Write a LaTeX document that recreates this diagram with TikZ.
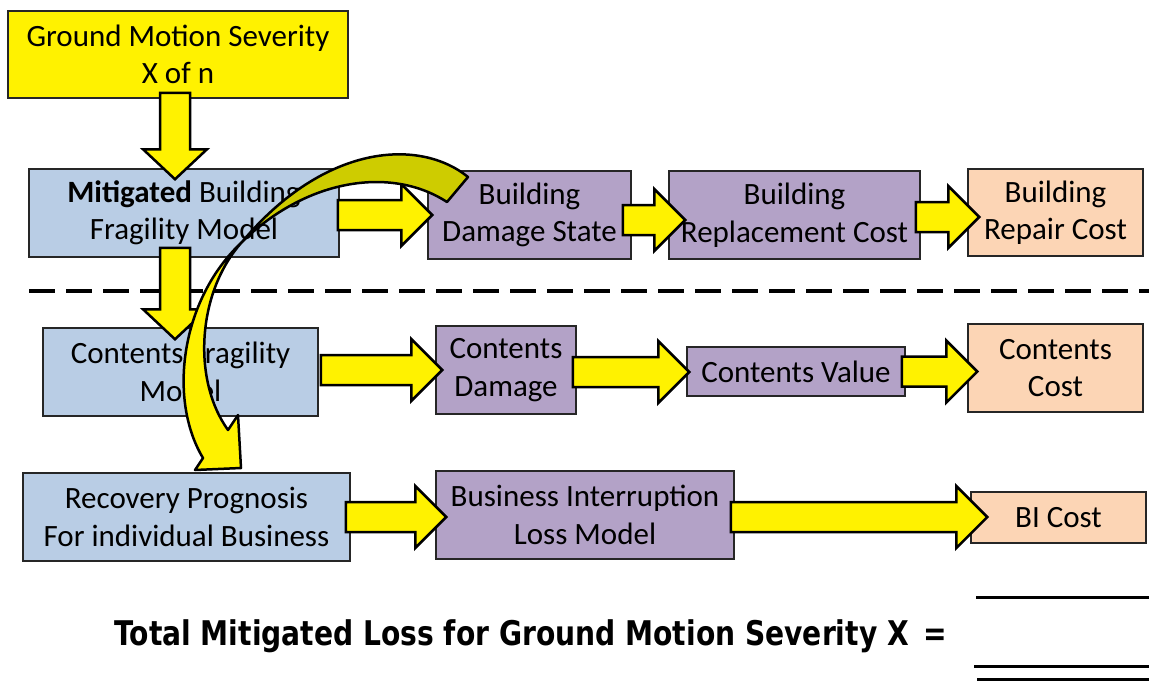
\documentclass[tikz,border=0pt]{standalone}
\usepackage{fontspec}
\setmainfont{Carlito}
\newfontfamily\totalfont{DejaVu Sans}
\usepackage{graphicx}
\usepackage{tikz}
\usetikzlibrary{calc}

\definecolor{modelblue}{RGB}{185,205,229}
\definecolor{stagepurple}{RGB}{179,162,199}
\definecolor{costpeach}{RGB}{252,213,181}
\definecolor{backolive}{RGB}{206,204,0}

\tikzset{
  box/.style={draw=black!85, line width=1.5pt, align=center, inner sep=0pt,
    font=\fontsize{31}{37.5}\selectfont},
  model/.style={box, fill=modelblue},
  stage/.style={box, fill=stagepurple},
  cost/.style={box, fill=costpeach},
  yblock/.style={draw=black, line width=2.5pt, fill=yellow, line join=miter}
}

\newcommand{\rightblock}[2]{%
  \path[yblock] let \p1=(#1), \p2=(#2) in
    (\x1,\y1+15) -- (\x2-31,\y1+15) -- (\x2-31,\y1+31) -- (\x2,\y1)
    -- (\x2-31,\y1-31) -- (\x2-31,\y1-15) -- (\x1,\y1-15) -- cycle;}
\newcommand{\downblock}[2]{%
  \path[yblock] let \p1=(#1), \p2=(#2) in
    (\x1-15,\y1) -- (\x1+15,\y1) -- (\x1+15,\y2+30) -- (\x1+32,\y2+30)
    -- (\x1,\y2) -- (\x1-32,\y2+30) -- (\x1-15,\y2+30) -- cycle;}

\begin{document}
\begin{tikzpicture}[x=1pt, y=-1pt]
  \useasboundingbox (0,0) rectangle (1149,681);

  \node[box, fill=yellow, minimum width=340, minimum height=87] (gms) at (178,54.5)
    {Ground Motion Severity\\X of n};

  % building row
  \node[model, minimum width=310, minimum height=88] (mbf) at (184,213)
    {\textbf{Mitigated} Building\\Fragility Model};
  \node[stage, minimum width=203, minimum height=88] (bds) at (529.5,215)
    {Building\\Damage State};
  \node[stage, minimum width=251, minimum height=88] (brc) at (794.5,215)
    {Building\\Replacement Cost};
  \node[cost, minimum width=175, minimum height=87] (brr) at (1055.5,212.5)
    {Building\\Repair Cost};

  \draw[line width=4pt, dash pattern=on 26pt off 11pt] (29,291) -- (1149,291);

  % contents row
  \node[model, minimum width=275, minimum height=88] (cfm) at (180.5,372)
    {Contents Fragility\\Model};
  \node[stage, minimum width=140, minimum height=88] (cdm) at (506,370)
    {Contents\\Damage};
  \node[stage, minimum width=218, minimum height=49] (cvl) at (796,371.5)
    {Contents Value};
  \node[cost, minimum width=175, minimum height=88] (ccs) at (1055.5,368)
    {Contents\\Cost};

  % business row
  \node[model, minimum width=327, minimum height=88] (rpg) at (186.5,517)
    {Recovery Prognosis\\For individual Business};
  \node[stage, minimum width=298, minimum height=88] (bil) at (585,515)
    {Business Interruption\\Loss Model};
  \node[cost, minimum width=175, minimum height=51] (bic) at (1058.5,517.5)
    {BI Cost};

  \downblock{[shift={(-3pt,6pt)}]gms.south}{[yshift=-11pt]mbf.north}
  \downblock{[shift={(-9pt,10pt)}]mbf.south}{[yshift=-12pt]cfm.north}
  \rightblock{[shift={(-2pt,-2pt)}]mbf.east}{[xshift=5pt]bds.west}
  \rightblock{[shift={(-9pt,-5pt)}]bds.east}{[xshift=17pt]brc.west}
  \rightblock{[shift={(-5pt,-2pt)}]brc.east}{[xshift=12pt]brr.west}
  \rightblock{[shift={(2pt,2pt)}]cfm.east}{[xshift=7pt]cdm.west}
  \rightblock{[shift={(-4pt,-2pt)}]cdm.east}{[xshift=3pt]cvl.west}
  \rightblock{[shift={(-4pt,0pt)}]cvl.east}{[xshift=10pt]ccs.west}
  \rightblock{[xshift=-5pt]rpg.east}{[xshift=11pt]bil.west}
  \rightblock{[shift={(-4pt,-2pt)}]bil.east}{[xshift=17pt]bic.west}

  % curved arrow, back side then front side
  \draw[line width=2.5pt, line join=round, fill=backolive]
    (468,177) .. controls (420,138) and (325,143) .. (242,242)
    .. controls (305,180) and (390,165) .. (447,202) -- cycle;
  \draw[line width=2.5pt, line join=round, fill=yellow]
    (242,242) .. controls (180,300) and (168,400) .. (203,458)
    -- (195,470) -- (241,468) -- (238,415) -- (228,430)
    .. controls (192,380) and (197,292) .. (242,242) -- cycle;

  \node[anchor=base west, inner sep=0pt] (total) at (114,645)
    {\totalfont\bfseries\fontsize{34}{40}\selectfont\scalebox{0.828}[1]{Total Mitigated Loss for Ground Motion Severity X\hspace{18pt}=}};
  \draw[line width=3pt] (976,597) -- (1149,597);
  \draw[line width=3pt] (974,666) -- (1149,666);
  \draw[line width=3pt] (977,679) -- (1149,679);
\end{tikzpicture}
\end{document}
